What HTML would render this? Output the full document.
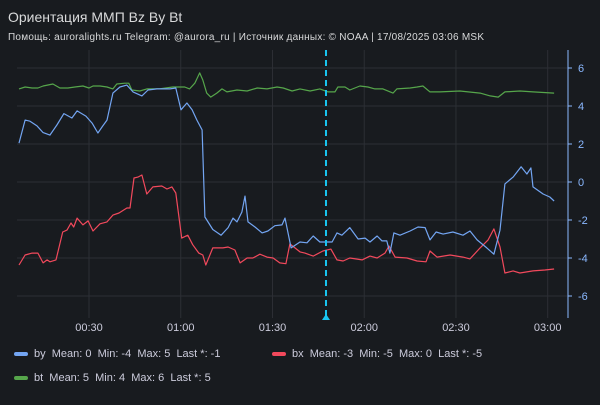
<!DOCTYPE html>
<html><head><meta charset="utf-8"><style>
body{margin:0;background:#181b1f;width:600px;height:400px;overflow:hidden;font-family:"Liberation Sans","Noto Sans CJK SC",sans-serif}
</style></head><body>
<svg id="c" width="600" height="400">
<rect width="600" height="400" fill="#181b1f"/>
<text x="8" y="22" fill="#d8d9da" font-size="14">Ориентация ММП Bz By Bt</text>
<text x="8" y="40" fill="#d8d9da" font-size="10" textLength="476" lengthAdjust="spacing">Помощь: auroralights.ru Telegram: @aurora_ru | Источник данных:  © NOAA | 17/08/2025 03:06 MSK</text>
<g id="grid"></g><g id="series"></g><g id="axes"></g>
</svg>
<script>
const yTicks=[6,4,2,0,-2,-4,-6];
const xTickMin=[30,60,90,120,150,180];
const xTickLabels=["00:30","01:00","01:30","02:00","02:30","03:00"];
const byT=[7.1,9.1,10.7,13.0,15.0,17.2,19.5,21.8,24.4,26.1,29.0,31.0,32.9,34.3,35.9,37.8,40.1,42.4,44.4,47.3,49.3,52.2,56.5,58.4,60.1,62.0,63.7,65.3,67.0,67.9,70.5,73.2,75.5,77.1,78.4,80.0,81.0,82.0,84.3,86.6,88.5,90.8,93.1,94.1,96.1,99.0,101.3,103.3,105.5,107.8,109.5,111.1,112.7,115.3,118.0,120.3,121.9,124.2,125.8,127.4,128.4,129.7,131.7,135.0,137.6,139.9,141.5,143.5,145.8,149.0,152.3,154.6,156.9,160.1,162.4,164.4,166.0,168.7,171.3,173.2,174.5,175.2,178.5,180.7,182.1];
const byV=[2.05,3.26,3.2,2.95,2.6,2.47,3.0,3.6,3.37,3.74,3.47,3.1,2.58,2.9,3.26,4.68,5.0,5.1,4.74,4.53,4.84,4.9,4.9,4.95,3.8,4.16,3.8,3.26,2.74,-1.84,-2.5,-2.8,-2.4,-1.9,-2.1,-1.58,-0.74,-2.1,-2.37,-2.68,-2.58,-2.3,-2.26,-1.9,-3.47,-3.16,-3.2,-2.84,-3.16,-3.16,-3.16,-2.68,-2.8,-2.4,-3.0,-2.95,-3.16,-2.84,-3.1,-3.1,-3.74,-2.68,-2.8,-2.58,-2.37,-2.4,-3.05,-2.63,-2.74,-2.63,-2.8,-2.58,-3.05,-3.47,-3.8,-2.53,-0.1,0.26,0.8,0.42,0.74,-0.26,-0.63,-0.79,-1.0];
const bxT=[7.1,9.1,11.4,13.3,15.0,16.3,17.2,19.2,21.4,22.8,24.1,25.0,26.1,28.0,29.7,31.3,33.6,35.9,37.8,39.8,42.4,43.4,44.7,46.0,47.3,48.9,50.9,53.8,55.5,57.1,58.4,60.3,62.3,63.9,65.9,67.2,68.2,70.5,73.8,75.5,77.7,79.4,81.7,83.6,85.9,88.2,90.2,92.4,94.4,95.7,99.0,100.6,103.3,106.5,109.1,111.1,113.1,115.3,119.3,121.9,124.2,126.8,128.1,130.1,134.0,137.3,140.2,141.5,143.8,148.1,152.3,154.6,157.9,160.5,162.4,164.4,166.0,168.7,170.9,175.2,179.1,182.1];
const bxV=[-4.37,-3.84,-3.74,-3.74,-4.26,-4.1,-4.2,-4.1,-2.63,-2.53,-2.16,-2.37,-1.9,-2.26,-2.05,-2.58,-2.2,-2.1,-1.74,-1.63,-1.37,-1.37,0.21,0.26,0.37,-0.63,-0.26,-0.21,-0.37,-0.26,-0.58,-2.95,-2.8,-3.3,-3.74,-3.84,-4.37,-3.47,-3.47,-3.42,-3.58,-4.26,-4.0,-4.0,-3.8,-3.95,-4.0,-4.26,-4.3,-3.26,-3.68,-3.74,-3.9,-3.63,-3.53,-4.1,-4.16,-4.0,-4.1,-3.9,-4.0,-3.74,-3.37,-3.95,-4.0,-4.16,-4.2,-3.63,-3.95,-3.84,-3.95,-4.05,-3.47,-3.05,-2.47,-3.42,-4.79,-4.68,-4.79,-4.68,-4.63,-4.58];
const btT=[7.1,9.1,11.4,13.3,15.0,18.2,20.5,23.1,25.4,28.0,30.0,31.3,33.6,35.9,37.8,39.1,41.7,43.0,44.0,46.6,48.9,53.1,57.4,61.3,62.9,64.6,66.2,67.2,68.5,69.8,71.8,73.5,75.1,78.4,81.7,85.0,88.2,91.5,93.5,96.4,99.0,102.3,105.5,108.2,110.4,111.4,113.7,115.3,118.6,121.2,123.5,126.1,129.4,130.7,135.0,137.3,139.2,141.5,144.8,151.3,157.9,161.2,163.8,166.0,170.9,175.2,182.1];
const btV=[4.9,5.0,4.95,4.95,5.05,5.16,4.95,4.95,5.0,5.05,4.95,5.05,5.05,5.0,4.9,5.16,5.2,5.2,4.84,4.79,4.9,4.9,5.0,5.0,4.9,5.2,5.74,5.37,4.68,4.47,4.68,4.9,4.74,4.84,4.79,4.95,4.9,5.0,4.95,4.79,4.9,4.79,4.9,4.74,4.74,5.0,5.0,4.84,5.05,5.0,4.9,4.9,4.68,4.9,4.95,5.0,5.05,4.74,4.74,4.79,4.68,4.53,4.47,4.74,4.79,4.74,4.68];
const cursorMin=107.5;
const NS="http://www.w3.org/2000/svg";
const X=m=>89+(m-30)*3.058;
const Y=v=>182-v*19;
function mk(tag,attrs,parent){const e=document.createElementNS(NS,tag);for(const k in attrs)e.setAttribute(k,attrs[k]);document.getElementById(parent).appendChild(e);return e;}
yTicks.forEach(v=>{
 const l=mk('line',{x1:17,x2:568,y1:Y(v),y2:Y(v),stroke:'#2c2f35','stroke-width':1},'grid');
 
 
 const t=mk('text',{x:578,y:Y(v)+4,fill:'#8ab8ff','font-size':11},'axes');t.textContent=v;
 
 
 const tk=mk('line',{x1:568,x2:572,y1:Y(v),y2:Y(v),stroke:'#8ab8ff'},'axes');
 
 
});
xTickMin.forEach((m,i)=>{
 const l=mk('line',{x1:X(m),x2:X(m),y1:50,y2:318,stroke:'#2c2f35'},'grid');
 
 
 const t=mk('text',{x:X(m),y:331,fill:'#ccccdc','font-size':11,'text-anchor':'middle'},'axes');t.textContent=xTickLabels[i];
 
 
});
const ax=mk('line',{x1:568,x2:568,y1:50,y2:318,stroke:'#8ab8ff'},'axes');


function line(T,V,color,name){const d=T.map((t,i)=>(i?'L':'M')+X(t).toFixed(1)+','+Y(V[i]).toFixed(1)).join('');
 const p=mk('path',{d:d,fill:'none',stroke:color,'stroke-width':1.2,'stroke-linejoin':'round'},'series');
 
 }
line(btT,btV,'#56a64b','bt-line');
line(bxT,bxV,'#f2495c','bx-line');
line(byT,byV,'#73a5f2','by-line');
const cur=mk('line',{x1:X(cursorMin),x2:X(cursorMin),y1:50,y2:316,stroke:'#19c5f0','stroke-width':2,'stroke-dasharray':'6,4'},'series');


const tri=mk('path',{d:`M${X(cursorMin)-4},320L${X(cursorMin)+4},320L${X(cursorMin)},314Z`,fill:'#19c5f0'},'series');


</script>
<div style="position:absolute;left:0;top:348px;width:600px;font-size:11px;color:#ccccdc">
 <div style="position:absolute;left:14px;top:0;white-space:pre"><span style="display:inline-block;width:14px;height:4px;border-radius:2px;background:#73a5f2;vertical-align:middle;margin-right:6px"></span>by  Mean: 0  Min: -4  Max: 5  Last *: -1</div>
 <div style="position:absolute;left:272px;top:0;white-space:pre"><span style="display:inline-block;width:14px;height:4px;border-radius:2px;background:#f2495c;vertical-align:middle;margin-right:6px"></span>bx  Mean: -3  Min: -5  Max: 0  Last *: -5</div>
 <div style="position:absolute;left:14px;top:24px;white-space:pre"><span style="display:inline-block;width:14px;height:4px;border-radius:2px;background:#56a64b;vertical-align:middle;margin-right:6px"></span>bt  Mean: 5  Min: 4  Max: 6  Last *: 5</div>
</div>
</body></html>
